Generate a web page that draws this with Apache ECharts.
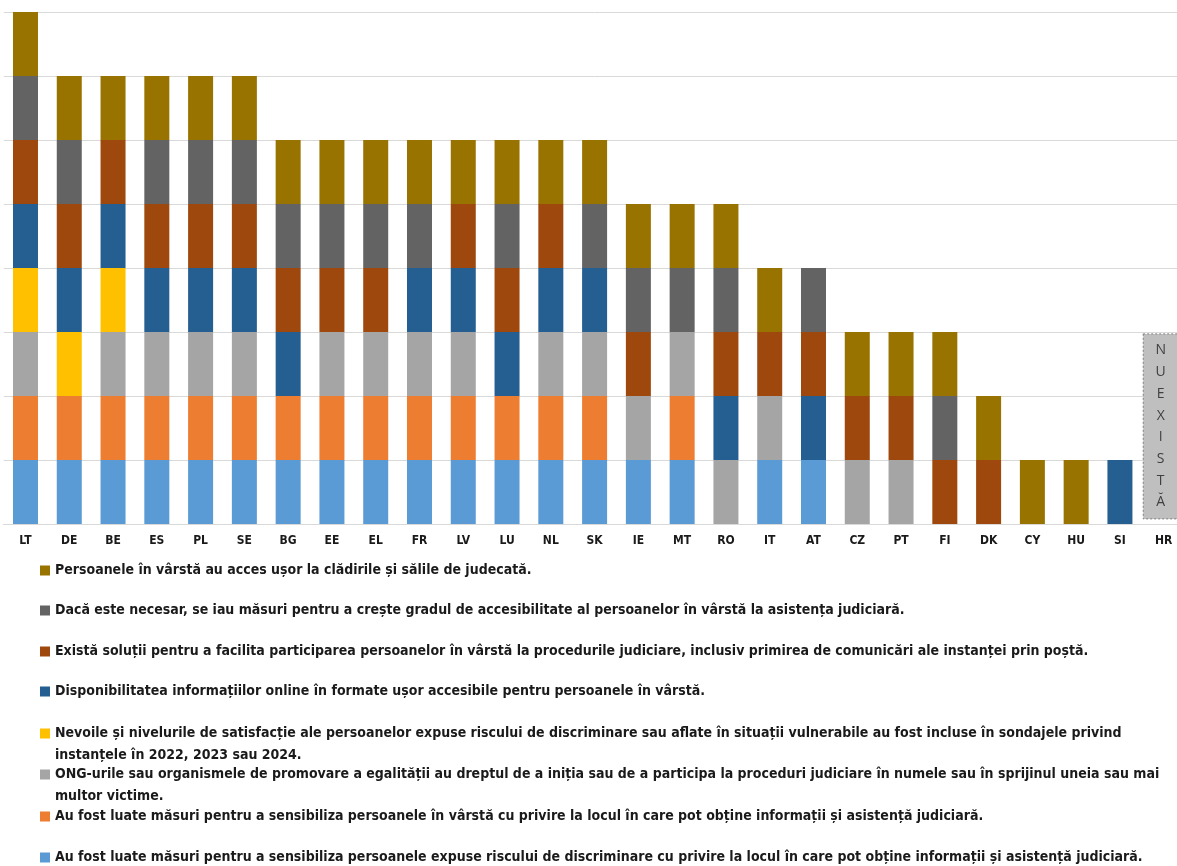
<!DOCTYPE html>
<html>
<head>
<meta charset="utf-8">
<script src="https://cdn.jsdelivr.net/npm/echarts@6/dist/echarts.min.js"></script>
<style>
html,body{margin:0;padding:0;background:#fff;overflow:hidden;}
#main{width:1186px;height:866px;}
</style>
</head>
<body>
<div id="main"></div>
<script>
// ---- data ----
const countries = ['LT','DE','BE','ES','PL','SE','BG','EE','EL','FR','LV','LU','NL','SK','IE','MT','RO','IT','AT','CZ','PT','FI','DK','CY','HU','SI','HR'];

const nameLightBlue = 'Au fost luate măsuri pentru a sensibiliza persoanele expuse riscului de discriminare cu privire la locul în care pot obține informații și asistență judiciară.';
const nameOrange = 'Au fost luate măsuri pentru a sensibiliza persoanele în vârstă cu privire la locul în care pot obține informații și asistență judiciară.';
const nameLightGrey = 'ONG-urile sau organismele de promovare a egalității au dreptul de a iniția sau de a participa la proceduri judiciare în numele sau în sprijinul uneia sau mai multor victime.';
const nameYellow = 'Nevoile și nivelurile de satisfacție ale persoanelor expuse riscului de discriminare sau aflate în situații vulnerabile au fost incluse în sondajele privind instanțele în 2022, 2023 sau 2024.';
const nameDarkBlue = 'Disponibilitatea informațiilor online în formate ușor accesibile pentru persoanele în vârstă.';
const nameBrown = 'Există soluții pentru a facilita participarea persoanelor în vârstă la procedurile judiciare, inclusiv primirea de comunicări ale instanței prin poștă.';
const nameDarkGrey = 'Dacă este necesar, se iau măsuri pentru a crește gradul de accesibilitate al persoanelor în vârstă la asistența judiciară.';
const nameGold = 'Persoanele în vârstă au acces ușor la clădirile și sălile de judecată.';

//                 LT DE BE ES PL SE BG EE EL FR LV LU NL SK IE MT RO IT AT CZ PT FI DK CY HU SI HR
const lightBlue = [1, 1, 1, 1, 1, 1, 1, 1, 1, 1, 1, 1, 1, 1, 1, 1, 0, 1, 1, 0, 0, 0, 0, 0, 0, 0, 0];
const orange    = [1, 1, 1, 1, 1, 1, 1, 1, 1, 1, 1, 1, 1, 1, 0, 1, 0, 0, 0, 0, 0, 0, 0, 0, 0, 0, 0];
const lightGrey = [1, 0, 1, 1, 1, 1, 0, 1, 1, 1, 1, 0, 1, 1, 1, 1, 1, 1, 0, 1, 1, 0, 0, 0, 0, 0, 0];
const yellow    = [1, 1, 1, 0, 0, 0, 0, 0, 0, 0, 0, 0, 0, 0, 0, 0, 0, 0, 0, 0, 0, 0, 0, 0, 0, 0, 0];
const darkBlue  = [1, 1, 1, 1, 1, 1, 1, 0, 0, 1, 1, 1, 1, 1, 0, 0, 1, 0, 1, 0, 0, 0, 0, 0, 0, 1, 0];
const brown     = [1, 1, 1, 1, 1, 1, 1, 1, 1, 0, 1, 1, 1, 0, 1, 0, 1, 1, 1, 1, 1, 1, 1, 0, 0, 0, 0];
const darkGrey  = [1, 1, 0, 1, 1, 1, 1, 1, 1, 1, 0, 1, 0, 1, 1, 1, 1, 0, 1, 0, 0, 1, 0, 0, 0, 0, 0];
const gold      = [1, 1, 1, 1, 1, 1, 1, 1, 1, 1, 1, 1, 1, 1, 1, 1, 1, 1, 0, 1, 1, 1, 1, 1, 1, 0, 0];

const noDataCountry = 'HR';
const noDataText = ['N','U','E','X','I','S','T','Ă'];

// ---- styling ----
const FONT = "'Liberation Sans Narrow','DejaVu Sans Condensed','Roboto Condensed',sans-serif";
const seriesDefs = [
  {name: nameLightBlue, data: lightBlue, color: '#5B9BD5'},
  {name: nameOrange,    data: orange,    color: '#ED7D31'},
  {name: nameLightGrey, data: lightGrey, color: '#A5A5A5'},
  {name: nameYellow,    data: yellow,    color: '#FFC000'},
  {name: nameDarkBlue,  data: darkBlue,  color: '#255E91'},
  {name: nameBrown,     data: brown,     color: '#9E480E'},
  {name: nameDarkGrey,  data: darkGrey,  color: '#636363'},
  {name: nameGold,      data: gold,      color: '#997300'}
];

// legend display text (with line breaks as in the reference)
const legendBreaks = {};
legendBreaks[nameYellow] = 'Nevoile și nivelurile de satisfacție ale persoanelor expuse riscului de discriminare sau aflate în situații vulnerabile au fost incluse în sondajele privind\ninstanțele în 2022, 2023 sau 2024.';
legendBreaks[nameLightGrey] = 'ONG-urile sau organismele de promovare a egalității au dreptul de a iniția sau de a participa la proceduri judiciare în numele sau în sprijinul uneia sau mai\nmultor victime.';

// legend order top->bottom and first-line centre y
const legendOrder = [nameGold, nameDarkGrey, nameBrown, nameDarkBlue, nameYellow, nameLightGrey, nameOrange, nameLightBlue];
const legendY = [570, 610, 651, 691, 733, 774, 816, 857];

const chart = echarts.init(document.getElementById('main'), null, {renderer: 'canvas'});

const legends = legendOrder.map((nm, i) => {
  const twoLines = !!legendBreaks[nm];
  return {
    data: [nm],
    left: 40,
    top: legendY[i] - 10.5,
    padding: 0,
    itemWidth: 10,
    itemHeight: twoLines ? 44 : 10,
    itemGap: 7,
    icon: twoLines
      ? 'path://M0,6h10v10h-10z M0,0h0.01v0.01h-0.01z M0,44h0.01v0.01h-0.01z'
      : 'rect',
    formatter: n => legendBreaks[n] || n,
    textStyle: {
      fontFamily: FONT,
      fontWeight: 'bold',
      fontSize: 14,
      color: '#1a1a1a',
      lineHeight: 22
    }
  };
});

const option = {
  animation: false,
  backgroundColor: '#fff',
  grid: {left: 3.6, top: 12, width: 1182, height: 512, containLabel: false},
  xAxis: {
    type: 'category',
    data: countries,
    axisLine: {lineStyle: {color: '#d9d9d9', width: 1}},
    axisTick: {show: false},
    axisLabel: {
      interval: 0,
      margin: 11,
      fontFamily: FONT,
      fontWeight: 'bold',
      fontSize: 12,
      color: '#1a1a1a'
    }
  },
  yAxis: {
    type: 'value',
    min: 0,
    max: 8,
    interval: 1,
    axisLabel: {show: false},
    axisLine: {show: false},
    axisTick: {show: false},
    splitLine: {lineStyle: {color: '#d9d9d9', width: 1}}
  },
  legend: legends,
  series: seriesDefs.map(s => ({
    name: s.name,
    type: 'bar',
    stack: 'total',
    barWidth: 25,
    data: s.data,
    itemStyle: {color: s.color},
    emphasis: {disabled: true}
  }))
};

chart.setOption(option);

// "NU EXISTĂ" annotation anchored to HR category
function drawNoData() {
  const cx = chart.convertToPixel({xAxisIndex: 0}, noDataCountry);
  const yTop = chart.convertToPixel({yAxisIndex: 0}, 2.97);
  const yBot = chart.convertToPixel({yAxisIndex: 0}, 0.08);
  const w = 36;
  chart.setOption({
    graphic: [
      {
        type: 'rect',
        shape: {x: cx - 20.5, y: yTop, width: w, height: yBot - yTop},
        style: {fill: '#BFBFBF', stroke: '#7F7F7F', lineWidth: 1, lineDash: [2, 2]},
        z: 10
      },
      {
        type: 'text',
        x: cx - 3, y: (yTop + yBot) / 2,
        style: {
          text: noDataText.join('\n'),
          fontFamily: "'Open Sans','DejaVu Sans',sans-serif",
          fontSize: 14,
          lineHeight: 21.7,
          fill: '#404040',
          align: 'center',
          verticalAlign: 'middle'
        },
        z: 11
      }
    ]
  });
}
drawNoData();
</script>
</body>
</html>
